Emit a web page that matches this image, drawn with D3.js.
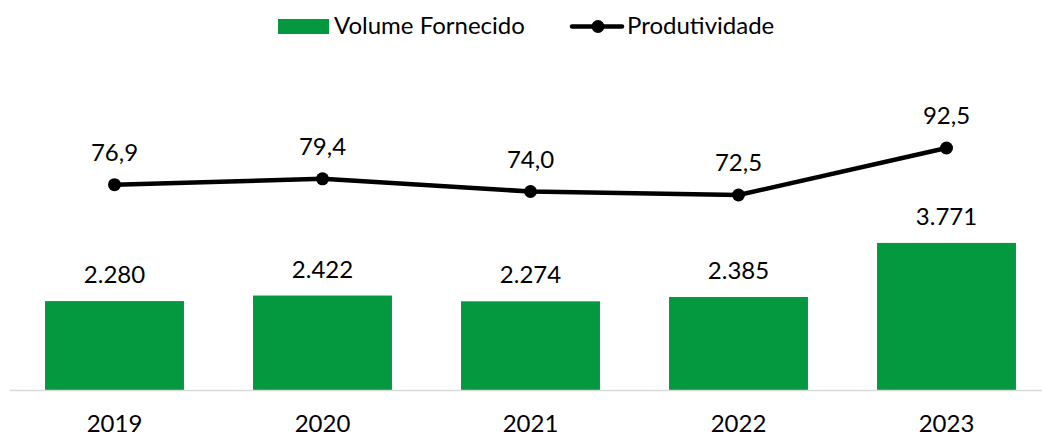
<!DOCTYPE html>
<html>
<head>
<meta charset="utf-8">
<script src="https://cdn.jsdelivr.net/npm/d3@7"></script>
<style>
  body { margin: 0; background: #fff; }
  text { font-family: Lato, "Open Sans", sans-serif; fill: #000; font-size: 24px; }
</style>
</head>
<body>
<svg width="1042" height="437"></svg>
<script>
// dados do gráfico
var anos = ["2019", "2020", "2021", "2022", "2023"];
var volume = [2280, 2422, 2274, 2385, 3771];
var produtividade = [76.9, 79.4, 74.0, 72.5, 92.5];

var svg = d3.select("svg");
var verde = "#04983f";

var fmtVol = function(v) { return d3.format(",")(v).replace(/,/g, "."); };
var fmtProd = function(v) { return v.toFixed(1).replace(".", ","); };

var x = d3.scaleBand()
    .domain(anos)
    .range([10.5, 1050.5])
    .paddingInner(0.332)
    .paddingOuter(0.166);

var y = d3.scaleLinear()
    .domain([0, 10000])
    .range([390, 0]);

var y2 = d3.scaleLinear()
    .domain([0, 100])
    .range([365.4, 130.4]);

// barras
svg.selectAll(".bar")
    .data(volume)
    .enter().append("rect")
    .attr("class", "bar")
    .attr("x", function(d, i) { return x(anos[i]); })
    .attr("y", function(d) { return y(d); })
    .attr("width", x.bandwidth())
    .attr("height", function(d) { return y(0) - y(d); })
    .style("fill", verde);

// eixo x
svg.append("line")
    .attr("x1", 10).attr("x2", 1042)
    .attr("y1", 390.5).attr("y2", 390.5)
    .style("stroke", "#d9d9d9")
    .style("stroke-width", 1.5);

svg.selectAll(".ano")
    .data(anos)
    .enter().append("text")
    .attr("x", function(d) { return x(d) + x.bandwidth() / 2; })
    .attr("y", 432)
    .attr("text-anchor", "middle")
    .text(function(d) { return d; });

// rótulos das barras
svg.selectAll(".rotVol")
    .data(volume)
    .enter().append("text")
    .attr("x", function(d, i) { return x(anos[i]) + x.bandwidth() / 2; })
    .attr("y", function(d) { return y(d) - 18; })
    .attr("text-anchor", "middle")
    .text(fmtVol);

// linha
var line = d3.line()
    .x(function(d, i) { return x(anos[i]) + x.bandwidth() / 2; })
    .y(function(d) { return y2(d); });

svg.append("path")
    .datum(produtividade)
    .attr("d", line)
    .style("fill", "none")
    .style("stroke", "#000")
    .style("stroke-width", 4.5)
    .style("stroke-linejoin", "round");

svg.selectAll(".ponto")
    .data(produtividade)
    .enter().append("circle")
    .attr("cx", function(d, i) { return x(anos[i]) + x.bandwidth() / 2; })
    .attr("cy", function(d) { return y2(d); })
    .attr("r", 6.5)
    .style("fill", "#000");

svg.selectAll(".rotProd")
    .data(produtividade)
    .enter().append("text")
    .attr("x", function(d, i) { return x(anos[i]) + x.bandwidth() / 2; })
    .attr("y", function(d) { return y2(d) - 24; })
    .attr("text-anchor", "middle")
    .text(fmtProd);

// legenda
var leg = svg.append("g");
leg.append("rect")
    .attr("x", 278).attr("y", 19)
    .attr("width", 51).attr("height", 15)
    .style("fill", verde);
leg.append("text")
    .attr("x", 334).attr("y", 34)
    .text("Volume Fornecido");
leg.append("line")
    .attr("x1", 572).attr("x2", 622)
    .attr("y1", 26.5).attr("y2", 26.5)
    .style("stroke", "#000")
    .style("stroke-width", 4.5)
    .style("stroke-linecap", "round");
leg.append("circle")
    .attr("cx", 598).attr("cy", 26.5).attr("r", 6.5)
    .style("fill", "#000");
leg.append("text")
    .attr("x", 627).attr("y", 34)
    .text("Produtividade");
</script>
</body>
</html>
